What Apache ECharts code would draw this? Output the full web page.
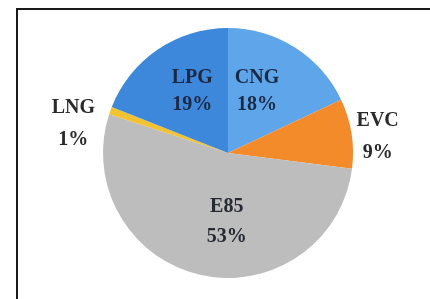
<!DOCTYPE html>
<html>
<head>
<meta charset="utf-8">
<script src="https://cdn.jsdelivr.net/npm/echarts@6/dist/echarts.min.js"></script>
<style>
  html, body { margin: 0; padding: 0; background: #fff; }
  #main { width: 430px; height: 299px; }
</style>
</head>
<body>
<div id="main"></div>
<script>
(function () {
    'use strict';

    // 数据
    var names = ['CNG', 'EVC', 'E85', 'LNG', 'LPG'];
    var shares = [18, 9, 53, 1, 19];
    var colors = ['#5ea6e9', '#f38b2b', '#bdbdbd', '#f1c232', '#3d88da'];

    // label nudges (px) from the default inside spot
    var nudge = {
        CNG: [-6, -6],
        LPG: [1, -7],
        E85: [13, 5],
        LNG: [-93, -7],
        EVC: [85, -6]
    };
    var outerLabel = { LNG: true, EVC: true };

    var myChart = echarts.init(document.getElementById('main'));

    var option = {
        animation: false,
        graphic: [{
            type: 'rect',
            shape: { x: 17, y: 9, width: 600, height: 500 },
            style: { fill: 'none', stroke: '#1a1a1a', lineWidth: 2 },
            silent: true
        }],
        series: [{
            type: 'pie',
            center: [228, 153],
            radius: [0, 125],
            startAngle: 90,
            clockwise: true,
            avoidLabelOverlap: false,
            itemStyle: { borderWidth: 0 },
            label: {
                show: true,
                position: 'inside',
                formatter: '{b}\n{c}%',
                fontFamily: '"Liberation Serif", "Times New Roman", serif',
                fontWeight: 'bold',
                fontSize: 20,
                lineHeight: 27,
                color: '#1c2945'
            },
            labelLine: { show: false },
            labelLayout: function (p) {
                var n = nudge[names[p.dataIndex]];
                return { dx: n[0], dy: n[1] };
            },
            data: names.map(function (n, i) {
                var lab = {};
                if (outerLabel[n]) lab = { color: '#2b2b2b', lineHeight: 32 };
                if (n === 'E85') lab = { lineHeight: 30, color: '#262a33' };
                return {
                    name: n,
                    value: shares[i],
                    itemStyle: { color: colors[i] },
                    label: lab
                };
            })
        }]
    };

    myChart.setOption(option);
}());
</script>
</body>
</html>
